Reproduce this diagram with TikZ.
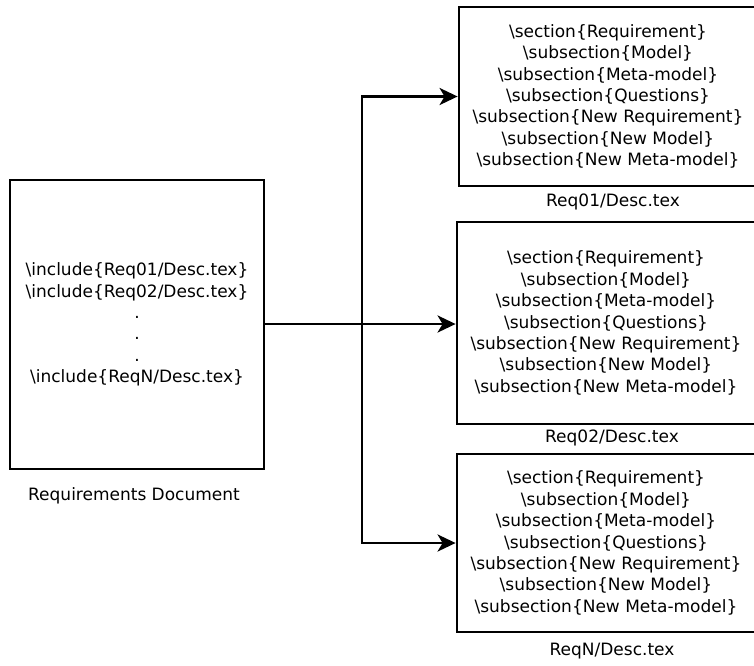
\documentclass[tikz,border=0pt]{standalone}
\usepackage{fontspec}
\setmainfont{DejaVu Sans}
\usetikzlibrary{arrows.meta}
\begin{document}
\begin{tikzpicture}[x=1pt,y=-1pt,
  every node/.style={font=\fontsize{17}{21.4}\selectfont, inner sep=0pt},
  filebox/.style={draw, line width=2.8pt, align=center, minimum width=298pt},
  caption/.style={anchor=center},
  link/.style={line width=2.8pt},
  arrowlink/.style={link, -{Stealth[length=18pt,width=17pt,inset=5pt]}}]
  \useasboundingbox (0,0) rectangle (754,665);
  \clip (0,0) rectangle (754,665);
  \fill[white] (0,0) rectangle (754,665);

  % main document
  \node[filebox, minimum width=254pt, minimum height=289pt] (doc) at (137,324.5)
    {\textbackslash include\{Req01/Desc.tex\}\\
     \textbackslash include\{Req02/Desc.tex\}\\ .\\ .\\ .\\
     \textbackslash include\{ReqN/Desc.tex\}};
  \node[caption] (doclabel) at (134,496) {Requirements Document};

  % per-requirement files
  \newcommand{\reqbody}{\textbackslash section\{Requirement\}\\
     \textbackslash subsection\{Model\}\\
     \textbackslash subsection\{Meta-model\}\\
     \textbackslash subsection\{Questions\}\\
     \textbackslash subsection\{New Requirement\}\\
     \textbackslash subsection\{New Model\}\\
     \textbackslash subsection\{New Meta-model\}}
  \node[filebox, minimum height=179pt] (r1) at (608,96.5) {\reqbody};
  \node[caption] (r1label) at (613,202) {Req01/Desc.tex};
  \node[filebox, minimum height=202pt] (r2) at (606,323) {\reqbody};
  \node[caption] (r2label) at (612,438) {Req02/Desc.tex};
  \node[filebox, minimum height=178pt] (r3) at (606,543) {\reqbody};
  \node[caption] (r3label) at (612,651) {ReqN/Desc.tex};

  % fan-out connectors
  \coordinate (split) at (362,324);
  \draw[arrowlink] (doc.east |- split) -- (r2.west |- split);
  \draw[arrowlink] (split) |- (r1.west);
  \draw[arrowlink] (split) |- (r3.west);
\end{tikzpicture}
\end{document}
